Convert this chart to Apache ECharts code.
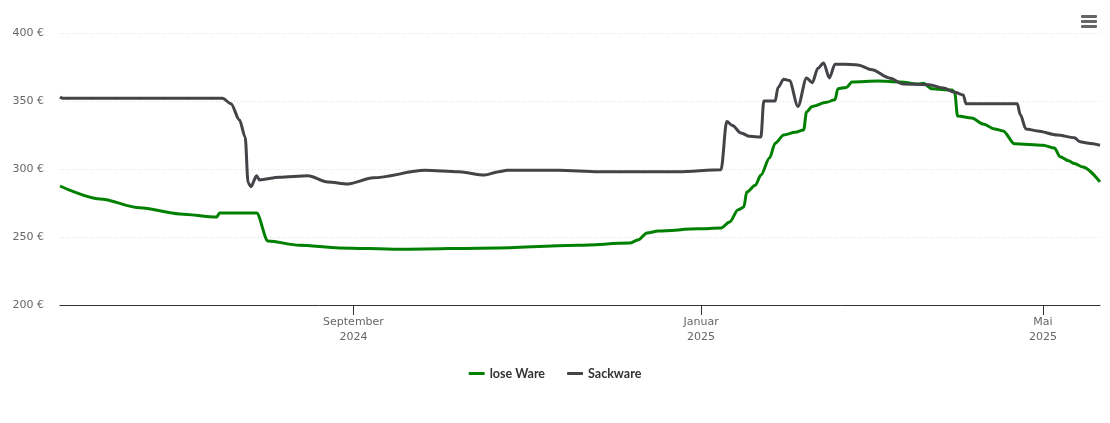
<!DOCTYPE html>
<html>
<head>
<meta charset="utf-8">
<script src="https://cdn.jsdelivr.net/npm/echarts@6/dist/echarts.min.js"></script>
<style>
  html, body { margin: 0; padding: 0; background: #fff; }
  #chart { width: 1110px; height: 423px; }
</style>
</head>
<body>
<div id="chart"></div>
<script>
  // Preisverlauf: lose Ware vs. Sackware (€)
  const loseWare = [
    ['2024-05-21', 287.5], ['2024-06-04', 278], ['2024-06-18', 271.5], ['2024-07-02', 267],
    ['2024-07-15', 264.7], ['2024-07-16', 267.6], ['2024-07-29', 267.6], ['2024-08-02', 247],
    ['2024-08-13', 244], ['2024-08-27', 242], ['2024-09-17', 241], ['2024-10-22', 242],
    ['2024-11-19', 244], ['2024-12-07', 245.5], ['2024-12-10', 248], ['2024-12-13', 253],
    ['2024-12-17', 254.4], ['2024-12-31', 256], ['2025-01-08', 256.6], ['2025-01-11', 261],
    ['2025-01-14', 270], ['2025-01-16', 272], ['2025-01-17', 283], ['2025-01-20', 288],
    ['2025-01-22', 295.5], ['2025-01-25', 308], ['2025-01-27', 319], ['2025-01-30', 325],
    ['2025-02-03', 327], ['2025-02-06', 328.7], ['2025-02-07', 342], ['2025-02-09', 346],
    ['2025-02-14', 349], ['2025-02-17', 351], ['2025-02-18', 359], ['2025-02-21', 360],
    ['2025-02-23', 364], ['2025-03-04', 364.7], ['2025-03-12', 364], ['2025-03-18', 362.5],
    ['2025-03-20', 363], ['2025-03-23', 359], ['2025-03-30', 358], ['2025-03-31', 356.5],
    ['2025-04-01', 339], ['2025-04-06', 337.5], ['2025-04-10', 333], ['2025-04-14', 329.5],
    ['2025-04-17', 328], ['2025-04-21', 318.5], ['2025-05-01', 317.5], ['2025-05-05', 315.4],
    ['2025-05-07', 309], ['2025-05-10', 306], ['2025-05-12', 304], ['2025-05-15', 301.5],
    ['2025-05-21', 290.5]
  ];

  const sackware = [
    ['2024-05-21', 353], ['2024-05-22', 352], ['2024-07-17', 352], ['2024-07-20', 348],
    ['2024-07-23', 336], ['2024-07-25', 323.5], ['2024-07-26', 290], ['2024-07-27', 287],
    ['2024-07-29', 295], ['2024-07-30', 292], ['2024-08-06', 294], ['2024-08-16', 295],
    ['2024-08-23', 290.5], ['2024-08-30', 289], ['2024-09-08', 293.5], ['2024-09-26', 299],
    ['2024-10-08', 298], ['2024-10-17', 295.5], ['2024-10-22', 298], ['2024-10-25', 299],
    ['2024-11-12', 299], ['2024-11-26', 298], ['2024-12-24', 298], ['2025-01-08', 299.5],
    ['2025-01-10', 335], ['2025-01-12', 332], ['2025-01-15', 326.5], ['2025-01-18', 324],
    ['2025-01-22', 323.5], ['2025-01-23', 350], ['2025-01-27', 350], ['2025-01-28', 360],
    ['2025-01-30', 366], ['2025-02-01', 365], ['2025-02-04', 346], ['2025-02-07', 367],
    ['2025-02-09', 363.5], ['2025-02-11', 374], ['2025-02-13', 378], ['2025-02-15', 367],
    ['2025-02-17', 377], ['2025-02-20', 377], ['2025-02-25', 376.5], ['2025-03-02', 373],
    ['2025-03-08', 367], ['2025-03-13', 362.5], ['2025-03-22', 362], ['2025-03-27', 359.5],
    ['2025-03-31', 356.5], ['2025-04-03', 354.5], ['2025-04-04', 348], ['2025-04-22', 348],
    ['2025-04-23', 340], ['2025-04-25', 329.5], ['2025-04-29', 328], ['2025-05-06', 325],
    ['2025-05-12', 323], ['2025-05-14', 320], ['2025-05-17', 319], ['2025-05-21', 317.5]
  ];

  const monthTicks = ['2024-09-01', '2025-01-01', '2025-05-01'];
  const monthNames = { 8: 'September', 0: 'Januar', 4: 'Mai' };

  const ts = d => +new Date(d + 'T00:00:00');
  const tickValues = monthTicks.map(ts);
  const toPoints = arr => arr.map(p => [ts(p[0]), p[1]]);

  const chart = echarts.init(document.getElementById('chart'));

  const option = {
    backgroundColor: '#fff',
    animation: false,
    textStyle: { fontFamily: 'DejaVu Sans, Verdana, sans-serif' },
    grid: { left: 60, right: 10, top: 33, bottom: 118 },
    legend: {
      bottom: 38,
      left: 'center',
      icon: 'roundRect',
      itemWidth: 16,
      itemHeight: 3,
      itemGap: 22,
      textStyle: { color: '#333', fontSize: 12.5, fontWeight: 'bold', fontFamily: 'Lato, sans-serif' },
      data: ['lose Ware', 'Sackware']
    },
    xAxis: {
      type: 'value',
      min: ts('2024-05-21'),
      max: ts('2025-05-21'),
      axisLine: { onZero: false, lineStyle: { color: '#333', width: 1 } },
      axisTick: { show: true, customValues: tickValues, length: 10, lineStyle: { color: '#333' } },
      splitLine: { show: false },
      axisLabel: {
        customValues: tickValues,
        color: '#666',
        fontSize: 11,
        lineHeight: 15,
        margin: 10,
        formatter: v => {
          const d = new Date(v);
          return monthNames[d.getMonth()] + '\n' + d.getFullYear();
        }
      }
    },
    yAxis: {
      type: 'value',
      min: 200,
      max: 400,
      interval: 50,
      axisLine: { show: false },
      axisTick: { show: false },
      splitLine: { lineStyle: { color: '#e0e0e0', type: [1, 2] } },
      axisLabel: { color: '#666', fontSize: 11, margin: 16, formatter: '{value} €' }
    },
    series: [
      {
        name: 'lose Ware',
        type: 'line',
        data: toPoints(loseWare),
        showSymbol: false,
        smooth: 0.3,
        smoothMonotone: 'x',
        color: '#008000',
        lineStyle: { width: 3 },
        z: 2
      },
      {
        name: 'Sackware',
        type: 'line',
        data: toPoints(sackware),
        showSymbol: false,
        smooth: 0.3,
        smoothMonotone: 'x',
        color: '#434348',
        lineStyle: { width: 3 },
        z: 3
      }
    ],
    graphic: [
      { type: 'rect', left: 1081, top: 15, shape: { width: 16, height: 3, r: 1 }, style: { fill: '#666' } },
      { type: 'rect', left: 1081, top: 20, shape: { width: 16, height: 3, r: 1 }, style: { fill: '#666' } },
      { type: 'rect', left: 1081, top: 25, shape: { width: 16, height: 3, r: 1 }, style: { fill: '#666' } }
    ]
  };

  chart.setOption(option);
  window.addEventListener('resize', function () { chart.resize() });
</script>
</body>
</html>
